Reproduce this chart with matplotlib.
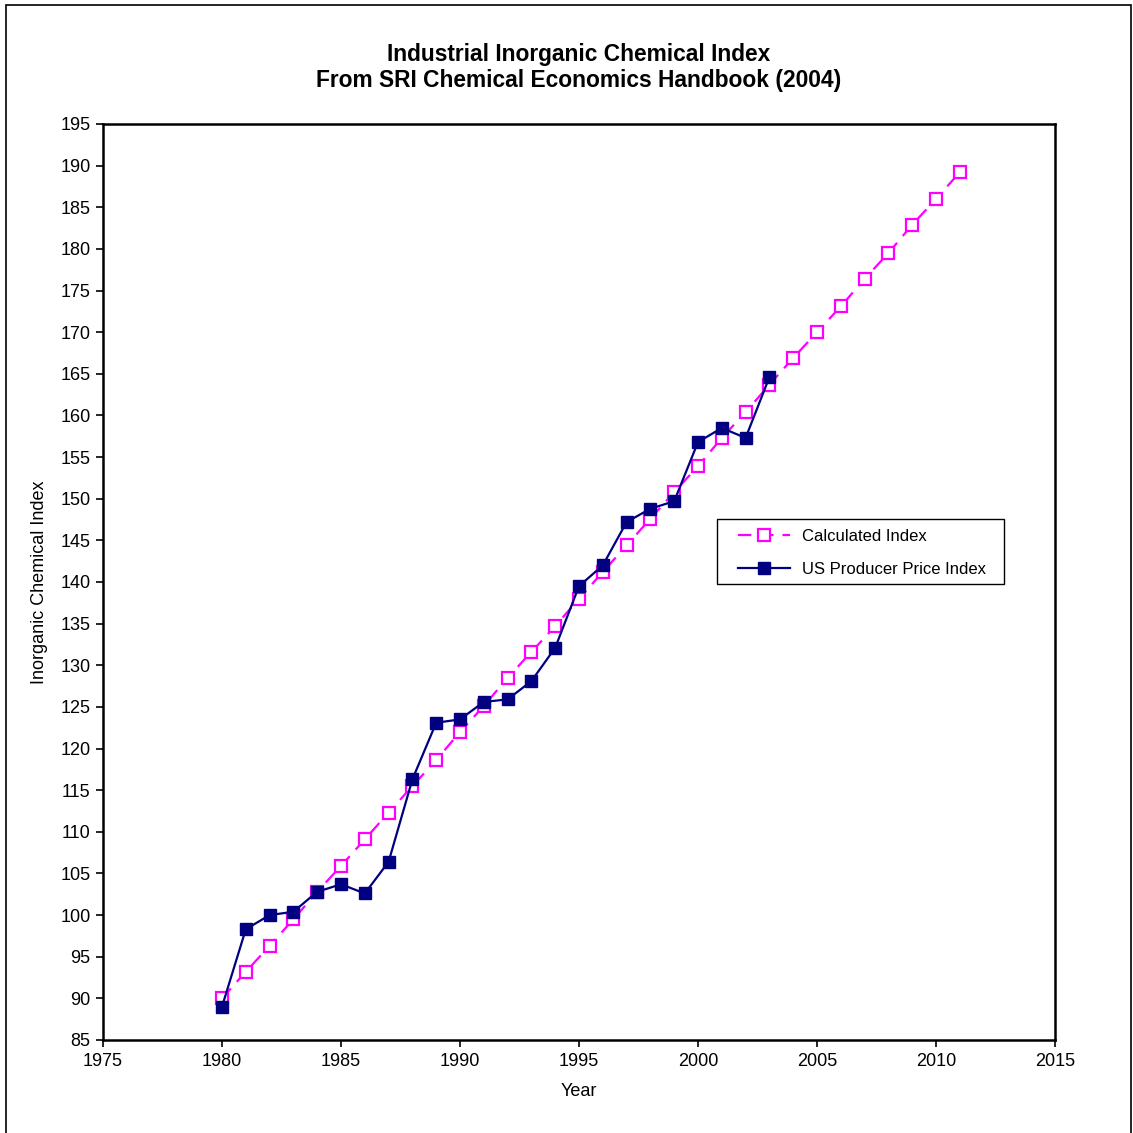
import matplotlib
matplotlib.use("Agg")
import matplotlib.pyplot as plt
from matplotlib.patches import Rectangle

plt.rcParams['font.family'] = ['Liberation Sans', 'DejaVu Sans']

calc_years = list(range(1980, 2012))
calc_index = [90.0, 93.2, 96.3, 99.5, 102.8, 105.9, 109.1, 112.3, 115.5, 118.6,
              122.0, 125.1, 128.5, 131.6, 134.7, 138.0, 141.2, 144.4, 147.6, 150.8,
              153.9, 157.3, 160.4, 163.7, 166.9, 170.0, 173.1, 176.4, 179.5, 182.9,
              186.0, 189.2]

ppi_years = list(range(1980, 2004))
ppi_index = [89.0, 98.3, 100.0, 100.4, 102.8, 103.7, 102.6, 106.4, 116.3, 123.1,
             123.5, 125.6, 125.9, 128.1, 132.1, 139.5, 142.0, 147.2, 148.8, 149.7,
             156.8, 158.5, 157.3, 164.6]

x_ticks = list(range(1975, 2016, 5))
y_ticks = list(range(85, 196, 5))

W = 1133
fig = plt.figure(figsize=(W / 100, W / 100), dpi=100)
ax = fig.add_axes([103 / W, 1 - 1040 / W, (1055 - 103) / W, (1040 - 124) / W])

ax.plot(calc_years, calc_index, color='#FF00FF', linestyle=(0, (6, 4)), linewidth=1.6,
        marker='s', markersize=8, markerfacecolor='white', markeredgecolor='#FF00FF',
        markeredgewidth=1.6, label='Calculated Index')
ax.plot(ppi_years, ppi_index, color='#000080', linestyle='-', linewidth=1.6,
        marker='s', markersize=9, markerfacecolor='#000080', markeredgecolor='#000080',
        label='US Producer Price Index')

ax.set_xlim(1975, 2015)
ax.set_ylim(85, 195)
ax.set_xticks(x_ticks)
ax.set_yticks(y_ticks)
ax.tick_params(direction='out', length=5, width=1.2, labelsize=13, pad=4)
for s in ax.spines.values():
    s.set_linewidth(1.8)

ax.set_xlabel('Year', fontsize=13, labelpad=10)
ax.set_ylabel('Inorganic Chemical Index', fontsize=13, labelpad=9)

fig.text(0.511, 1 - 54 / W, 'Industrial Inorganic Chemical Index', ha='center', va='center',
         fontsize=16.4, fontweight='bold')
fig.text(0.511, 1 - 80 / W, 'From SRI Chemical Economics Handbook (2004)', ha='center', va='center',
         fontsize=16.4, fontweight='bold')

# legend frame drawn separately so the inner padding matches the reference
ax.add_patch(Rectangle(((717 - 103) / 952, 1 - (584 - 124) / 916),
                       (1004 - 717) / 952, (584 - 519) / 916,
                       transform=ax.transAxes, facecolor='white', edgecolor='black',
                       linewidth=1.0, zorder=4.9, clip_on=False))
leg = ax.legend(loc='upper left', bbox_to_anchor=((738 - 103) / 952, 1 - (529 - 124) / 916),
                borderaxespad=0, borderpad=0, fontsize=12, frameon=False,
                handlelength=3.1, labelspacing=1.06, handletextpad=0.72)
leg.set_zorder(5)

fig.patches.append(Rectangle((6 / W, -0.01), (1131 - 6) / W, 1.01 - 5 / W,
                             transform=fig.transFigure, fill=False, edgecolor='black',
                             linewidth=1.2))

fig.savefig('out.png', dpi=100)
